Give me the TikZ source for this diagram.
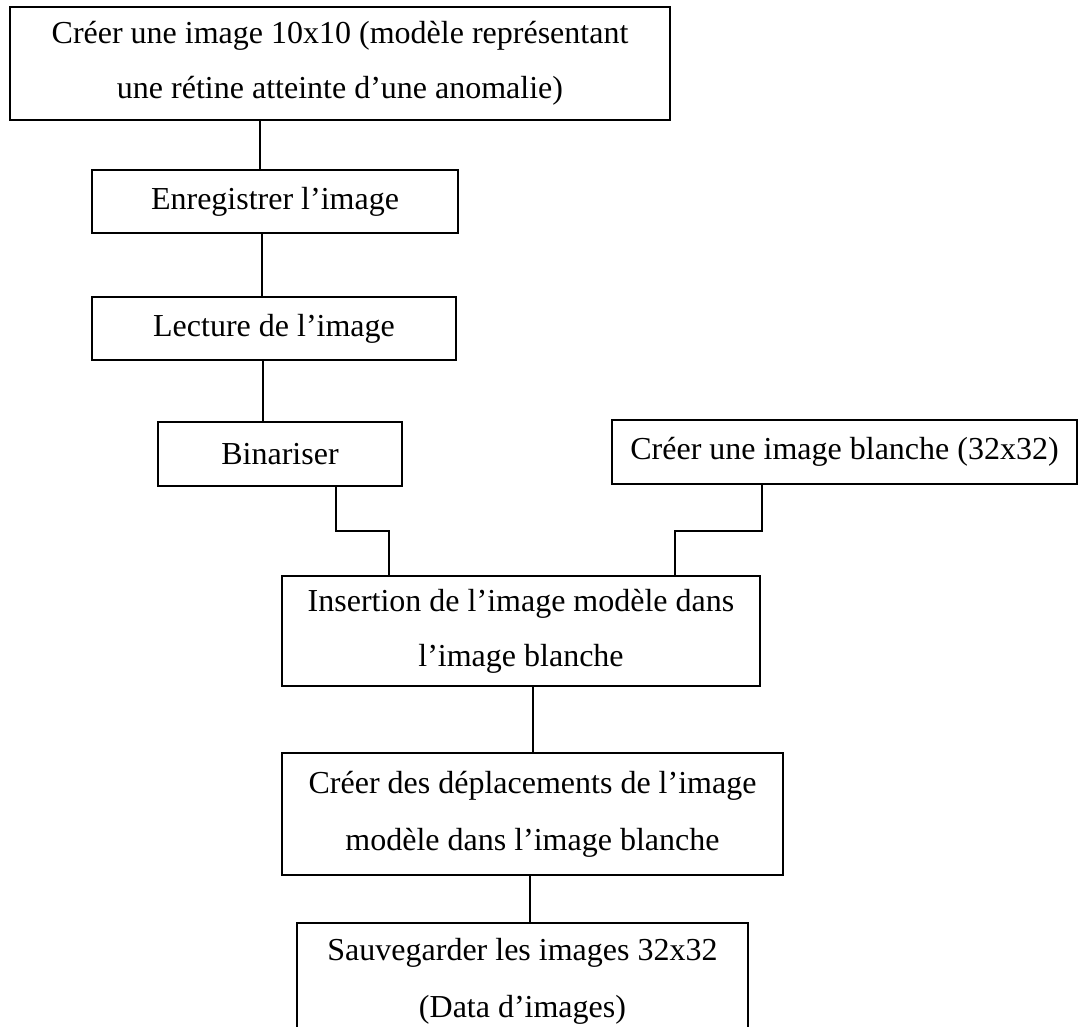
\documentclass[tikz,border=0pt]{standalone}
\usepackage{fontspec}
\setmainfont{Liberation Serif}
\begin{document}
\begin{tikzpicture}[x=1pt,y=-1pt,
  box/.style={draw,line width=1.1pt,inner sep=0pt,align=center,
    font=\fontsize{32}{55}\selectfont},
  link/.style={line width=1.6pt}]
\useasboundingbox[fill=white] (0,0) rectangle (1078,1026);
\node[box,minimum width=660pt,minimum height=113pt] (crea) at (340,63.5)
  {Créer une image 10x10 (modèle représentant\\une rétine atteinte d’une anomalie)};
\node[box,minimum width=366pt,minimum height=63pt] (enreg) at (275,201.5)
  {Enregistrer l’image};
\node[box,minimum width=364pt,minimum height=63pt] (lecture) at (274,328.5)
  {Lecture de l’image};
\node[box,minimum width=244pt,minimum height=64pt] (binar) at (280,454)
  {Binariser};
\node[box,minimum width=465pt,minimum height=64pt] (blanche) at (844.5,452)
  {Créer une image blanche (32x32)};
\node[box,minimum width=478pt,minimum height=110pt] (insert) at (521,631)
  {Insertion de l’image modèle dans\\l’image blanche};
\node[box,minimum width=501pt,minimum height=122pt,
  font=\fontsize{32}{57}\selectfont] (deplac) at (532.5,814)
  {Créer des déplacements de l’image\\modèle dans l’image blanche};
\node[box,minimum width=451pt,minimum height=117pt,
  font=\fontsize{32}{57}\selectfont] (sauve) at (522.5,981.5)
  {Sauvegarder les images 32x32\\(Data d’images)};
\draw[link] (crea.south -| 260,0) -- (enreg.north -| 260,0);
\draw[link] (enreg.south -| 262,0) -- (lecture.north -| 262,0);
\draw[link] (lecture.south -| 263,0) -- (binar.north -| 263,0);
\draw[link] (binar.south -| 336,0) -- (336,531) -- (389,531) -- (insert.north -| 389,0);
\draw[link] (blanche.south -| 762,0) -- (762,531) -- (675,531) -- (insert.north -| 675,0);
\draw[link] (insert.south -| 533,0) -- (deplac.north -| 533,0);
\draw[link] (deplac.south -| 530,0) -- (sauve.north -| 530,0);
\end{tikzpicture}
\end{document}
